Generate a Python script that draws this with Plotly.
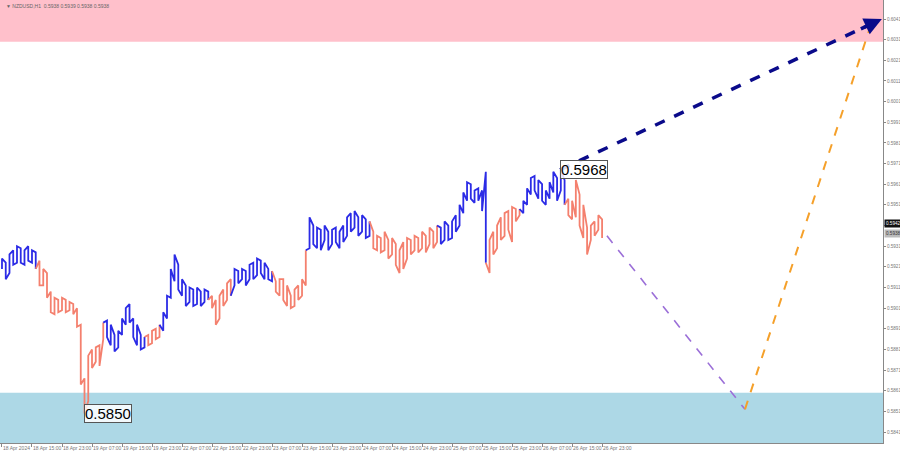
import plotly.graph_objects as go

# ---------------- data ----------------
title_text = "▼ NZDUSD,H1  0.5938 0.5939 0.5938 0.5938"

bar_high = [
    0.5925, 0.5923, 0.5927, 0.5929, 0.5931, 0.5930, 0.5929, 0.5931, 0.5929, 0.5928,
    0.5924, 0.5920, 0.5918, 0.5909, 0.5906, 0.5905, 0.5906, 0.5905, 0.5904, 0.5903,
    0.5901, 0.5893, 0.5867, 0.5878, 0.5881, 0.5882, 0.5883, 0.5894, 0.5895, 0.5893,
    0.5888, 0.5890, 0.5896, 0.5901, 0.5903, 0.5896, 0.5893, 0.5888, 0.5887, 0.5888,
    0.5890, 0.5891, 0.5893, 0.5899, 0.5907, 0.5920, 0.5927, 0.5922, 0.5915, 0.5912,
    0.5911, 0.5910, 0.5911, 0.5909, 0.5910, 0.5909, 0.5907, 0.5905, 0.5907, 0.5910,
    0.5913, 0.5915, 0.5920, 0.5919, 0.5920, 0.5919, 0.5922, 0.5923, 0.5925, 0.5924,
    0.5923, 0.5920, 0.5919, 0.5914, 0.5915, 0.5915, 0.5912, 0.5907, 0.5910, 0.5912,
    0.5915, 0.5929, 0.5945, 0.5941, 0.5940, 0.5939, 0.5941, 0.5938, 0.5939, 0.5940,
    0.5938, 0.5941, 0.5945, 0.5947, 0.5948, 0.5945, 0.5946, 0.5944, 0.5943, 0.5938,
    0.5936, 0.5935, 0.5938, 0.5934, 0.5935, 0.5932, 0.5929, 0.5933, 0.5935, 0.5934,
    0.5936, 0.5935, 0.5938, 0.5936, 0.5940, 0.5938, 0.5941, 0.5940, 0.5943, 0.5941,
    0.5943, 0.5946, 0.5951, 0.5957, 0.5962, 0.5961, 0.5958, 0.5959, 0.5958, 0.5967,
    0.5934, 0.5938, 0.5941, 0.5945, 0.5947, 0.5948, 0.5950, 0.5949, 0.5949, 0.5953,
    0.5959, 0.5964, 0.5965, 0.5963, 0.5961, 0.5958, 0.5962, 0.5967, 0.5964, 0.5968,
    0.5963, 0.5954, 0.5953, 0.5963, 0.5956, 0.5951, 0.5940, 0.5941, 0.5943, 0.5946,
    0.5944,
]
bar_low = [
    0.5920, 0.5915, 0.5918, 0.5922, 0.5923, 0.5923, 0.5922, 0.5924, 0.5923, 0.5920,
    0.5912, 0.5912, 0.5906, 0.5899, 0.5898, 0.5899, 0.5900, 0.5899, 0.5900, 0.5898,
    0.5892, 0.5864, 0.5850, 0.5856, 0.5872, 0.5875, 0.5873, 0.5886, 0.5887, 0.5883,
    0.5880, 0.5882, 0.5888, 0.5893, 0.5894, 0.5887, 0.5883, 0.5881, 0.5882, 0.5883,
    0.5884, 0.5886, 0.5887, 0.5890, 0.5896, 0.5906, 0.5914, 0.5910, 0.5907, 0.5902,
    0.5904, 0.5902, 0.5903, 0.5902, 0.5904, 0.5905, 0.5901, 0.5893, 0.5896, 0.5902,
    0.5905, 0.5907, 0.5912, 0.5913, 0.5915, 0.5912, 0.5915, 0.5915, 0.5917, 0.5918,
    0.5915, 0.5915, 0.5914, 0.5909, 0.5907, 0.5905, 0.5902, 0.5901, 0.5902, 0.5905,
    0.5907, 0.5912, 0.5930, 0.5932, 0.5930, 0.5929, 0.5934, 0.5929, 0.5932, 0.5933,
    0.5930, 0.5933, 0.5936, 0.5938, 0.5940, 0.5936, 0.5938, 0.5935, 0.5936, 0.5930,
    0.5929, 0.5928, 0.5929, 0.5925, 0.5927, 0.5922, 0.5918, 0.5920, 0.5925, 0.5927,
    0.5929, 0.5928, 0.5930, 0.5928, 0.5932, 0.5930, 0.5933, 0.5932, 0.5934, 0.5934,
    0.5935, 0.5938, 0.5941, 0.5947, 0.5953, 0.5954, 0.5952, 0.5953, 0.5948, 0.5923,
    0.5918, 0.5927, 0.5930, 0.5934, 0.5936, 0.5939, 0.5933, 0.5943, 0.5946, 0.5947,
    0.5951, 0.5956, 0.5958, 0.5954, 0.5953, 0.5951, 0.5954, 0.5957, 0.5953, 0.5958,
    0.5951, 0.5946, 0.5944, 0.5945, 0.5941, 0.5935, 0.5927, 0.5934, 0.5936, 0.5939,
    0.5935,
]

# wave segments: (first bar, last bar, colour name)
wave_segments = [
    (0, 9, "up"), (10, 27, "down"), (28, 38, "up"), (39, 42, "down"),
    (43, 55, "up"), (56, 61, "down"), (62, 72, "up"), (73, 81, "down"),
    (82, 98, "up"), (99, 116, "down"), (117, 129, "up"), (130, 138, "down"),
    (139, 150, "up"), (151, 160, "down"),
]

tick_bars = [0, 8, 16, 24, 32, 40, 48, 56, 64, 72, 80, 88, 96, 104, 112, 120, 128, 136, 144, 152, 160]
tick_labels = [
    "18 Apr 2024", "18 Apr 15:00", "18 Apr 23:00", "19 Apr 07:00", "19 Apr 15:00",
    "19 Apr 23:00", "22 Apr 07:00", "22 Apr 15:00", "22 Apr 23:00", "23 Apr 07:00",
    "23 Apr 15:00", "23 Apr 23:00", "24 Apr 07:00", "24 Apr 15:00", "24 Apr 23:00",
    "25 Apr 07:00", "25 Apr 15:00", "25 Apr 23:00", "26 Apr 07:00", "26 Apr 15:00",
    "26 Apr 23:00",
]
price_ticks = [0.5841, 0.5851, 0.5861, 0.5871, 0.5881, 0.5891, 0.5901, 0.5911, 0.5921,
               0.5931, 0.5941, 0.5951, 0.5961, 0.5971, 0.5981, 0.5991, 0.6001, 0.6011,
               0.6021, 0.6031, 0.6041]
# the 0.5941 label is hidden behind the current-price labels in the reference
price_tick_labels = ["0.5841", "0.5851", "0.5861", "0.5871", "0.5881", "0.5891", "0.5901",
                     "0.5911", "0.5921", "0.5931", "", "0.5951", "0.5961", "0.5971",
                     "0.5981", "0.5991", "0.6001", "0.6011", "0.6021", "0.6031", "0.6041"]

resistance_zone = (0.6030, 0.6060)
support_zone = (0.5830, 0.5860)

low_label = (22, 0.5850, "0.5850")
high_label = (149, 0.5968, "0.5968")

# forecast paths (bar index, price)
forecast_up_x = [148.8, 234.6]
forecast_up_y = [0.5968, 0.6041]
forecast_down_x = [161.3, 198.1]
forecast_down_y = [0.5936, 0.5852]
forecast_next_x = [198.1, 232.0]
forecast_next_y = [0.5852, 0.6040]

bid_label = (0.5942, "0.5942")
ask_label = (0.5937, "0.5938")

# ---------------- figure ----------------
colors = {"up": "#2b2be6", "down": "#f4806e"}
fig = go.Figure()

x_min, x_max = -0.53, 234.9
y_min, y_max = 0.58357, 0.60502

fig.add_shape(type="rect", xref="x", yref="y", x0=x_min, x1=x_max,
              y0=resistance_zone[0], y1=resistance_zone[1],
              fillcolor="#ffc0cb", line_width=0, layer="below")
fig.add_shape(type="rect", xref="x", yref="y", x0=x_min, x1=x_max,
              y0=support_zone[0], y1=support_zone[1],
              fillcolor="#add8e6", line_width=0, layer="below")

prev = None
for a, b, kind in wave_segments:
    xs, ys = [], []
    if prev is not None:
        xs.append(a - 1)
        ys.append(prev)
    for i in range(a, b + 1):
        hi, lo = bar_high[i], bar_low[i]
        ref = prev if prev is not None else lo
        if abs(ref - hi) < abs(ref - lo):
            xs += [i, i]
            ys += [hi, lo]
            prev = lo
        else:
            xs += [i, i]
            ys += [lo, hi]
            prev = hi
    fig.add_trace(go.Scatter(x=xs, y=ys, mode="lines",
                             line=dict(color=colors[kind], width=1.8),
                             hoverinfo="skip", showlegend=False))

fig.add_trace(go.Scatter(x=forecast_down_x, y=forecast_down_y, mode="lines",
                         line=dict(color="#9b6fd8", width=1.6, dash="dash"),
                         showlegend=False, hoverinfo="skip"))
fig.add_trace(go.Scatter(x=forecast_next_x, y=forecast_next_y, mode="lines",
                         line=dict(color="#f5a02a", width=2, dash="dash"),
                         showlegend=False, hoverinfo="skip"))
fig.add_trace(go.Scatter(x=[forecast_up_x[0], forecast_up_x[1] - 4],
                         y=[forecast_up_y[0], forecast_up_y[1] - 0.00034],
                         mode="lines",
                         line=dict(color="#0a0a8a", width=3.5, dash="dash"),
                         showlegend=False, hoverinfo="skip"))
fig.add_annotation(x=forecast_up_x[1], y=forecast_up_y[1], xref="x", yref="y",
                   ax=forecast_up_x[1] - 6, ay=forecast_up_y[1] - 0.00051,
                   axref="x", ayref="y", text="", showarrow=True,
                   arrowhead=2, arrowsize=1, arrowwidth=3.5, arrowcolor="#0a0a8a")

for bx, by, txt in (low_label, high_label):
    fig.add_annotation(x=bx, y=by, xref="x", yref="y", text=txt, showarrow=False,
                       xanchor="left", yanchor="middle", xshift=-1,
                       font=dict(family="Liberation Sans, Arial", size=15, color="#000"),
                       bgcolor="rgba(255,255,255,0.85)", bordercolor="#555",
                       borderwidth=1, borderpad=0)

fig.add_annotation(x=1.0, y=bid_label[0], xref="paper", yref="y", text=bid_label[1],
                   showarrow=False, xanchor="left", yanchor="middle", xshift=1,
                   font=dict(size=4.6, color="#fff"), bgcolor="#111", borderpad=1)
fig.add_annotation(x=1.0, y=ask_label[0], xref="paper", yref="y", text=ask_label[1],
                   showarrow=False, xanchor="left", yanchor="middle", xshift=1,
                   font=dict(size=4.6, color="#333"), bgcolor="#bbb", borderpad=1)

fig.add_annotation(x=0.004, y=0.998, xref="paper", yref="paper", text=title_text,
                   showarrow=False, xanchor="left", yanchor="top",
                   font=dict(size=5, color="#666"))

fig.update_layout(
    width=900, height=453,
    margin=dict(l=0, r=17, t=0, b=10, autoexpand=False),
    plot_bgcolor="white", paper_bgcolor="white",
    xaxis=dict(range=[x_min, x_max], tickmode="array", tickvals=tick_bars,
               ticktext=tick_labels, showgrid=False, zeroline=False,
               ticks="outside", ticklen=3, tickcolor="#888", tickangle=0,
               ticklabelposition="outside right", automargin=False,
               tickfont=dict(size=5, color="#777"),
               showline=True, linecolor="#888", linewidth=1),
    yaxis=dict(range=[y_min, y_max], side="right", tickmode="array",
               tickvals=price_ticks, ticktext=price_tick_labels,
               showgrid=False, zeroline=False, ticks="outside", ticklen=2,
               tickcolor="#888", tickfont=dict(size=4.6, color="#777"),
               automargin=False,
               showline=True, linecolor="#888", linewidth=1),
    font=dict(family="Liberation Sans, Arial"),
)

fig.write_html(
    "out.html",
    config={"displayModeBar": False},
    post_script="document.body.style.margin='0';document.body.style.overflow='hidden';",
)
